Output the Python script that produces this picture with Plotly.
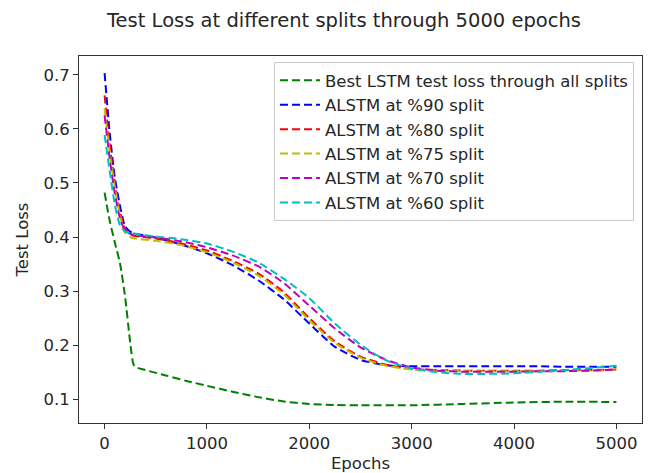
import plotly.graph_objects as go

# ---- data ----
epochs_lstm = [0, 50, 100, 150, 200, 250, 280, 300, 400, 600, 800, 1000, 1250, 1500,
               1750, 2000, 2250, 2500, 3000, 3500, 4000, 4500, 5000]
best_lstm = [0.482, 0.430, 0.390, 0.352, 0.290, 0.205, 0.166, 0.160, 0.154, 0.144, 0.134,
             0.125, 0.114, 0.104, 0.096, 0.0915, 0.0895, 0.089, 0.089, 0.0915, 0.094, 0.0955, 0.095]

epochs_alstm = [0, 50, 100, 150, 200, 250, 300, 500, 750, 1000, 1250, 1500, 1750, 2000,
                2250, 2500, 2750, 3000, 3250, 3500, 3750, 4000, 4250, 4500, 4750, 5000]
alstm_90 = [0.703, 0.592, 0.510, 0.458, 0.420, 0.410, 0.406, 0.399, 0.386, 0.370, 0.348, 0.320,
            0.285, 0.240, 0.197, 0.173, 0.163, 0.161, 0.161, 0.161, 0.161, 0.161, 0.161, 0.160, 0.160, 0.160]
alstm_80 = [0.662, 0.570, 0.500, 0.447, 0.415, 0.405, 0.402, 0.397, 0.388, 0.375, 0.356, 0.333,
            0.298, 0.250, 0.207, 0.179, 0.164, 0.156, 0.154, 0.153, 0.153, 0.153, 0.153, 0.154, 0.154, 0.155]
alstm_75 = [0.638, 0.555, 0.490, 0.440, 0.408, 0.400, 0.397, 0.393, 0.385, 0.372, 0.353, 0.329,
            0.294, 0.246, 0.204, 0.177, 0.162, 0.155, 0.153, 0.152, 0.152, 0.152, 0.152, 0.153, 0.153, 0.154]
alstm_70 = [0.625, 0.545, 0.480, 0.435, 0.412, 0.406, 0.403, 0.399, 0.392, 0.381, 0.366, 0.346,
            0.315, 0.273, 0.231, 0.196, 0.173, 0.159, 0.153, 0.151, 0.151, 0.151, 0.152, 0.152, 0.153, 0.155]
alstm_60 = [0.589, 0.522, 0.460, 0.422, 0.410, 0.408, 0.406, 0.401, 0.396, 0.388, 0.373, 0.353,
            0.323, 0.287, 0.240, 0.201, 0.172, 0.157, 0.150, 0.147, 0.147, 0.148, 0.151, 0.154, 0.158, 0.162]

series_names = ["Best LSTM test loss through all splits", "ALSTM at %90 split", "ALSTM at %80 split",
                "ALSTM at %75 split", "ALSTM at %70 split", "ALSTM at %60 split"]
series_colors = ["#008000", "#0000ff", "#ff0000", "#bfbf00", "#bf00bf", "#00bfbf"]

x_ticks = [0, 1000, 2000, 3000, 4000, 5000]
y_ticks = [0.1, 0.2, 0.3, 0.4, 0.5, 0.6, 0.7]

FONT = "DejaVu Sans"
TXT = "#262626"
FS = 16.5

fig = go.Figure()
all_series = [(epochs_lstm, best_lstm)] + [(epochs_alstm, s) for s in
                                          (alstm_90, alstm_80, alstm_75, alstm_70, alstm_60)]
for i, ((xs, ys), name, col) in enumerate(zip(all_series, series_names, series_colors)):
    fig.add_trace(go.Scatter(
        x=xs, y=ys, mode="lines", name=name,
        line=dict(color=col, width=2, dash="8px,4px", shape="spline", smoothing=0.6),
    ))

fig.update_layout(
    width=649, height=473,
    margin=dict(l=79, r=7, t=56, b=50, autoexpand=False),
    paper_bgcolor="white", plot_bgcolor="white",
    font=dict(family=FONT, size=FS, color=TXT),
    title=dict(text="Test Loss at different splits through 5000 epochs",
               x=344 / 649, xref="container", xanchor="center",
               y=(473 - 20) / 473, yref="container", yanchor="middle",
               font=dict(family=FONT, size=19.5, color=TXT)),
    legend=dict(x=(634 - 79) / 563, xanchor="right", y=1 - (62 - 56) / 367, yanchor="top",
                bgcolor="rgba(255,255,255,0.8)", bordercolor="#cccccc", borderwidth=1,
                font=dict(family=FONT, size=FS, color=TXT), itemwidth=40),
    showlegend=True,
)
fig.update_xaxes(range=[-250, 5250], tickvals=x_ticks, ticktext=[str(v) for v in x_ticks],
                 showgrid=False, zeroline=False, showline=True, mirror=True,
                 linecolor="#333333", linewidth=1, ticks="outside", ticklen=5,
                 tickcolor="#333333", tickfont=dict(size=FS), automargin=False,
                 title=dict(text="Epochs", standoff=7,
                            font=dict(family=FONT, size=FS, color=TXT)))
fig.update_yaxes(range=[0.0562, 0.7346], tickvals=y_ticks, ticktext=[f"{v:.1f}" for v in y_ticks],
                 showgrid=False, zeroline=False, showline=True, mirror=True,
                 linecolor="#333333", linewidth=1, ticks="outside", ticklen=5,
                 tickcolor="#333333", tickfont=dict(size=FS), automargin=False,
                 title=dict(text="Test Loss", standoff=10,
                            font=dict(family=FONT, size=FS, color=TXT)))

fig.write_html("out.html")
